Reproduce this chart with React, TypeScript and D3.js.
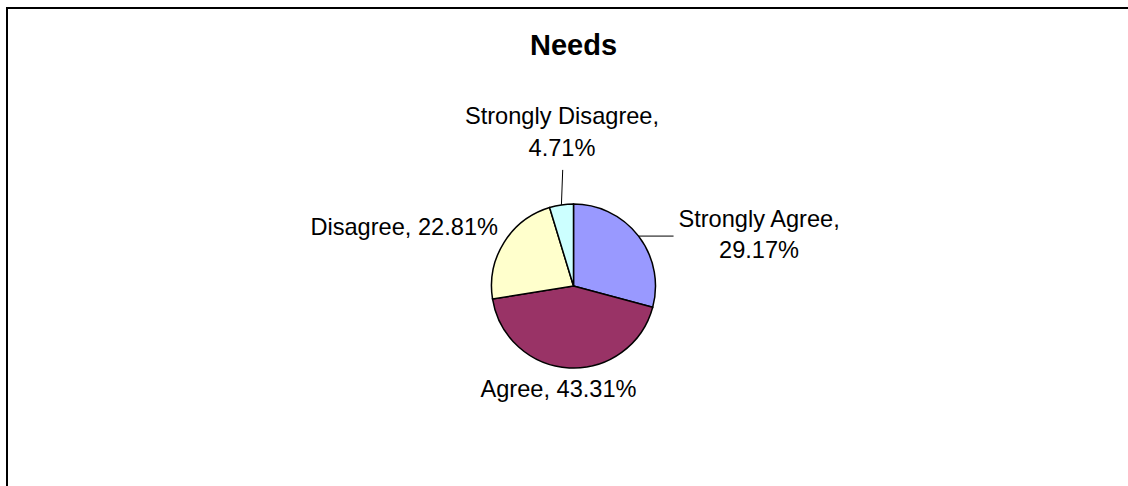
import React from "react";
import * as d3 from "d3";

const categories = ["Strongly Agree", "Agree", "Disagree", "Strongly Disagree"];
const values = [29.17, 43.31, 22.81, 4.71];
const colors = ["#9999FF", "#993366", "#FFFFCC", "#CCFFFF"];
const title = "Needs";

const W = 1128;
const H = 486;
const cx = 573.5;
const cy = 286;
const R = 82;
const FONT = "'Liberation Sans', Arial, sans-serif";
const FS = 23.6;
const LH = 31.5;

export default function App() {
  const pie = d3.pie<number>().sort(null).value((d) => d)(values);
  const arc = d3.arc<d3.PieArcDatum<number>>().innerRadius(0).outerRadius(R);
  const fmt = (v: number) => `${v.toFixed(2)}%`;

  const edge = (a: number, r: number) => [cx + r * Math.sin(a), cy - r * Math.cos(a)];
  const mid = (d: d3.PieArcDatum<number>) => (d.startAngle + d.endAngle) / 2;

  const [sa, ag, di, sd] = pie;
  const saEdge = edge(mid(sa), R);
  const sdEdge = edge(mid(sd), R);

  return (
    <svg width={W} height={H} style={{ position: "absolute", left: 0, top: 0, background: "#fff" }}>
      <rect x={7} y={8} width={W + 20} height={H + 20} fill="#fff" stroke="#000" strokeWidth={2} />
      <text x={cx} y={55} textAnchor="middle" fontFamily={FONT} fontWeight="bold" fontSize={29}>
        {title}
      </text>
      <g transform={`translate(${cx},${cy})`}>
        {pie.map((d, i) => (
          <path key={i} d={arc(d) || ""} fill={colors[i]} stroke="#000" strokeWidth={1.5} />
        ))}
      </g>
      {/* Strongly Agree leader + label */}
      <line x1={saEdge[0]} y1={saEdge[1]} x2={saEdge[0] + 35} y2={saEdge[1]} stroke="#000" strokeWidth={1} />
      <text textAnchor="middle" fontFamily={FONT} fontSize={FS}>
        <tspan x={saEdge[0] + 120.5} y={saEdge[1] - 9.5}>{categories[0]},</tspan>
        <tspan x={saEdge[0] + 120.5} y={saEdge[1] - 9.5 + LH}>{fmt(sa.data)}</tspan>
      </text>
      {/* Strongly Disagree leader + label */}
      <line x1={sdEdge[0]} y1={sdEdge[1]} x2={sdEdge[0] + 1.3} y2={sdEdge[1] - 35} stroke="#000" strokeWidth={1} />
      <text textAnchor="middle" fontFamily={FONT} fontSize={FS}>
        <tspan x={sdEdge[0] + 0.6} y={sdEdge[1] - 80.5}>{categories[3]},</tspan>
        <tspan x={sdEdge[0] + 0.6} y={sdEdge[1] - 80.5 + LH}>{fmt(sd.data)}</tspan>
      </text>
      {/* Disagree */}
      <text x={cx - 75.5} y={cy - 51} textAnchor="end" fontFamily={FONT} fontSize={FS}>
        {categories[2]}, {fmt(di.data)}
      </text>
      {/* Agree */}
      <text x={cx - 15} y={cy + R + 29} textAnchor="middle" fontFamily={FONT} fontSize={FS}>
        {categories[1]}, {fmt(ag.data)}
      </text>
    </svg>
  );
}
